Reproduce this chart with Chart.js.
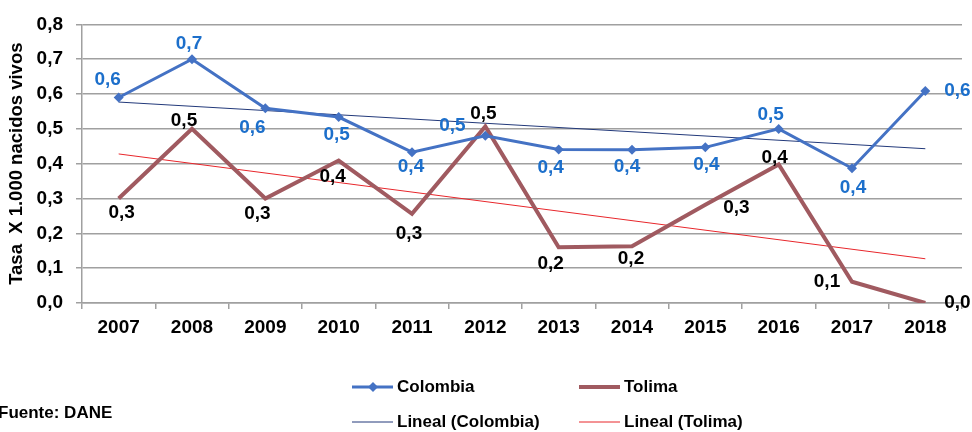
<!DOCTYPE html>
<html>
<head>
<meta charset="utf-8">
<script src="https://cdn.jsdelivr.net/npm/chart.js@4.4.1/dist/chart.umd.min.js"></script>
<style>
  body { margin: 0; background: #fff; }
  #wrap { position: relative; width: 972px; height: 432px; }
</style>
</head>
<body>
<div id="wrap"><canvas id="tasaChart"></canvas></div>
<script>
// Data
const years = ['2007', '2008', '2009', '2010', '2011', '2012', '2013', '2014', '2015', '2016', '2017', '2018'];
const colombia = [0.59, 0.70, 0.559, 0.534, 0.433, 0.48, 0.441, 0.44, 0.447, 0.50, 0.387, 0.609];
const tolima = [0.30, 0.50, 0.30, 0.409, 0.256, 0.507, 0.16, 0.163, 0.282, 0.398, 0.061, 0.0];
// Linear trend lines (first and last year values, as drawn in the reference)
const trendColombia = [0.577, 0.443];
const trendTolima = [0.428, 0.127];
const yTicks = [0, 0.1, 0.2, 0.3, 0.4, 0.5, 0.6, 0.7, 0.8];

const FONT = "'Liberation Sans', Arial, sans-serif";
const BLUE = '#4472C4';
const WINE = '#A05A60';
const NAVY = '#22397A';
const RED = '#E8262B';
const LABEL_BLUE = '#1C6FCB';
const GRID = '#A0A0A0';

// label offsets (dx, dy) from each point
const colombiaLabelPos = [[-11, -18], [-3, -15], [-13, 19], [-2, 18], [-1, 15], [-33, -10],
                          [-8, 18], [-5, 17], [1, 17], [-8, -14], [1, 20], [32, 0]];
const tolimaLabelPos = [[3, 14], [-8, -8], [-8, 15], [-6, 16], [-3, 20], [-2, -13],
                        [-8, 16], [-1, 13], [31, 3], [-4, -7], [-25, 0], [32, 0]];

function trendData(ends) {
    return years.map((_, i) => i === 0 ? ends[0] : (i === years.length - 1 ? ends[1] : null));
}

function fmt(v) {
    return v.toFixed(1).replace('.', ',');
}

const pointLabels = {
    id: 'pointLabels',
    afterDatasetsDraw(chart) {
        const ctx = chart.ctx;
        const sets = [[0, colombiaLabelPos, LABEL_BLUE], [1, tolimaLabelPos, '#000']];
        ctx.save();
        ctx.font = 'bold 19px ' + FONT;
        ctx.textAlign = 'center';
        ctx.textBaseline = 'middle';
        sets.forEach(([idx, pos, color]) => {
            const meta = chart.getDatasetMeta(idx);
            const values = chart.data.datasets[idx].data;
            ctx.fillStyle = color;
            meta.data.forEach((pt, i) => {
                ctx.fillText(fmt(values[i]), pt.x + pos[i][0], pt.y + pos[i][1]);
            });
        });
        ctx.restore();
    }
};

const sideLegend = {
    id: 'sideLegend',
    afterDraw(chart) {
        const ctx = chart.ctx;
        const items = [
            { text: 'Colombia', x: 352, y: 387, color: BLUE, width: 3, marker: true },
            { text: 'Tolima', x: 579, y: 387, color: WINE, width: 4 },
            { text: 'Lineal (Colombia)', x: 352, y: 422, color: NAVY, width: 1 },
            { text: 'Lineal (Tolima)', x: 579, y: 422, color: RED, width: 1 }
        ];
        ctx.save();
        ctx.font = 'bold 17px ' + FONT;
        ctx.textBaseline = 'middle';
        ctx.textAlign = 'left';
        items.forEach(it => {
            ctx.strokeStyle = it.color;
            ctx.lineWidth = it.width;
            ctx.beginPath();
            ctx.moveTo(it.x, it.y);
            ctx.lineTo(it.x + 41, it.y);
            ctx.stroke();
            if (it.marker) {
                ctx.fillStyle = it.color;
                ctx.beginPath();
                ctx.moveTo(it.x + 21, it.y - 5);
                ctx.lineTo(it.x + 26, it.y);
                ctx.lineTo(it.x + 21, it.y + 5);
                ctx.lineTo(it.x + 16, it.y);
                ctx.closePath();
                ctx.fill();
            }
            ctx.fillStyle = '#000';
            ctx.fillText(it.text, it.x + 45, it.y);
        });
        ctx.fillText('Fuente: DANE', -2, 413);
        ctx.restore();
    }
};

const ctx = document.getElementById('tasaChart').getContext('2d');
new Chart(ctx, {
    type: 'line',
    data: {
        labels: years,
        datasets: [
            {
                label: 'Colombia',
                data: colombia,
                borderColor: BLUE,
                backgroundColor: BLUE,
                borderWidth: 3,
                pointStyle: 'rectRot',
                pointRadius: 5,
                pointBorderWidth: 0,
                tension: 0
            },
            {
                label: 'Tolima',
                data: tolima,
                borderColor: WINE,
                backgroundColor: WINE,
                borderWidth: 4,
                pointRadius: 0,
                tension: 0
            },
            {
                label: 'Lineal (Colombia)',
                data: trendData(trendColombia),
                borderColor: NAVY,
                borderWidth: 1,
                pointRadius: 0,
                spanGaps: true
            },
            {
                label: 'Lineal (Tolima)',
                data: trendData(trendTolima),
                borderColor: RED,
                borderWidth: 1,
                pointRadius: 0,
                spanGaps: true
            }
        ]
    },
    options: {
        responsive: true,
        maintainAspectRatio: false,
        animation: false,
        layout: { padding: { top: 22, right: 10, left: 0, bottom: 0 } },
        plugins: {
            legend: { display: false },
            tooltip: { enabled: false }
        },
        scales: {
            x: {
                offset: true,
                afterFit: (s) => { s.height = 129; },
                grid: { offset: true, drawOnChartArea: false, tickLength: 6, color: GRID, lineWidth: 1.5 },
                border: { color: GRID, width: 1.5 },
                ticks: { color: '#000', font: { family: FONT, size: 19, weight: 'bold' }, padding: 7, maxRotation: 0 }
            },
            y: {
                min: 0,
                max: 0.8,
                afterFit: (s) => { s.width = 82; },
                afterBuildTicks: (s) => { s.ticks = yTicks.map(v => ({ value: v })); },
                grid: { color: GRID, lineWidth: 1.5, tickLength: 6 },
                border: { color: GRID, width: 1.5 },
                ticks: {
                    color: '#000',
                    font: { family: FONT, size: 19, weight: 'bold' },
                    padding: 13,
                    callback: (v) => fmt(v)
                },
                title: {
                    display: true,
                    text: 'Tasa  X 1.000 nacidos vivos',
                    color: '#000',
                    font: { family: FONT, size: 18.5, weight: 'bold' },
                    padding: { top: 6, bottom: 0 }
                }
            }
        }
    },
    plugins: [pointLabels, sideLegend]
});
</script>
</body>
</html>
